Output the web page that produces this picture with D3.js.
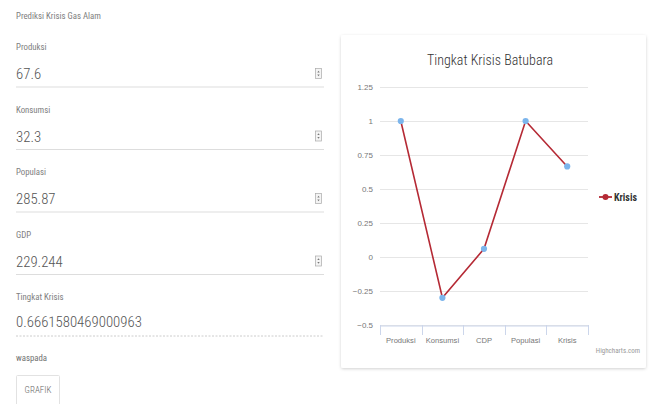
<!DOCTYPE html>
<html>
<head>
<meta charset="utf-8">
<title>Tingkat Krisis Batubara</title>
<script src="https://cdnjs.cloudflare.com/ajax/libs/d3/7.8.5/d3.min.js"></script>
<style>
  body { margin: 0; background: #fff; }
  svg { display: block; font-family: "Roboto Condensed", "Liberation Sans Narrow", "DejaVu Sans Condensed", Roboto, sans-serif; }
</style>
</head>
<body>
<div id="page"></div>
<script>
// form contents
const pageTitle = "Prediksi Krisis Gas Alam";
const fieldLabels = ["Produksi", "Konsumsi", "Populasi", "GDP"];
const fieldValues = ["67.6", "32.3", "285.87", "229.244"];
const resultLabel = "Tingkat Krisis";
const resultValue = "0.6661580469000963";
const statusText = "waspada";
const buttonText = "GRAFIK";

// chart data
const chartTitle = "Tingkat Krisis Batubara";
const categories = ["Produksi", "Konsumsi", "CDP", "Populasi", "Krisis"];
const krisis = [1, -0.3, 0.06, 1, 0.666];
const yTicks = [-0.5, -0.25, 0, 0.25, 0.5, 0.75, 1, 1.25];
const seriesName = "Krisis";

const W = 654, H = 404;
const svg = d3.select("#page").append("svg").attr("width", W).attr("height", H);

// ---- left form ----
const form = svg.append("g");
const labelSize = 8.8, valueSize = 14.8;
form.append("text").attr("x", 16).attr("y", 19).attr("font-size", labelSize).attr("fill", "#808080").text(pageTitle);

fieldLabels.forEach((lab, i) => {
  const top = 50 + i * 62.5;
  form.append("text").attr("x", 16).attr("y", top).attr("font-size", labelSize).attr("fill", "#808080").text(lab);
  form.append("text").attr("x", 16).attr("y", top + 29).attr("font-size", valueSize).attr("font-weight", 300).attr("fill", "#555").text(fieldValues[i]);
  form.append("line").attr("x1", 16).attr("x2", 324).attr("y1", top + 37).attr("y2", top + 37)
    .attr("stroke", "#ddd").attr("stroke-width", 1);
  // spinner
  const sp = form.append("g").attr("transform", `translate(315.5,${top + 18.5})`);
  sp.append("rect").attr("width", 6).attr("height", 10).attr("fill", "#f4f4f4").attr("stroke", "#aaa").attr("stroke-width", 0.7);
  sp.append("path").attr("d", "M1.8,4 L3,2.2 L4.2,4 Z").attr("fill", "#777");
  sp.append("path").attr("d", "M1.8,6 L3,7.8 L4.2,6 Z").attr("fill", "#777");
});

form.append("text").attr("x", 16).attr("y", 300).attr("font-size", labelSize).attr("fill", "#808080").text(resultLabel);
form.append("text").attr("x", 16).attr("y", 327).attr("font-size", valueSize).attr("font-weight", 300).attr("fill", "#555").text(resultValue);
form.append("line").attr("x1", 16).attr("x2", 324).attr("y1", 336).attr("y2", 336)
  .attr("stroke", "#ccc").attr("stroke-dasharray", "2,1.5");
form.append("text").attr("x", 16).attr("y", 361).attr("font-size", labelSize).attr("fill", "#707070").text(statusText);
form.append("rect").attr("x", 16.5).attr("y", 375.5).attr("width", 43).attr("height", 32)
  .attr("fill", "#fff").attr("stroke", "#e2e2e2").attr("rx", 1);
form.append("text").attr("x", 38).attr("y", 393).attr("text-anchor", "middle").attr("font-size", 9).attr("font-weight", 300).attr("fill", "#666").text(buttonText);

// ---- chart card ----
const defs = svg.append("defs");
const f = defs.append("filter").attr("id", "shadow").attr("x", "-5%").attr("y", "-5%").attr("width", "110%").attr("height", "110%");
f.append("feDropShadow").attr("dx", 0).attr("dy", 1).attr("stdDeviation", 1.5).attr("flood-color", "#000").attr("flood-opacity", 0.18);

svg.append("rect").attr("x", 341).attr("y", 35).attr("width", 305).attr("height", 333)
  .attr("fill", "#fff").attr("filter", "url(#shadow)").attr("rx", 2);

svg.append("text").attr("x", 490).attr("y", 65).attr("text-anchor", "middle")
  .attr("font-size", 14).attr("font-weight", 300).attr("fill", "#333").text(chartTitle);

const x = d3.scaleBand().domain(categories).range([380, 588]);
const y = d3.scaleLinear().domain([-0.5, 1.25]).range([325, 87]);

// grid
svg.append("g").selectAll("line").data(yTicks).join("line")
  .attr("x1", 380).attr("x2", 588)
  .attr("y1", d => y(d) + 0.5).attr("y2", d => y(d) + 0.5)
  .attr("stroke", "#e6e6e6");

// y axis labels
const yAxis = d3.axisLeft(y).tickValues(yTicks).tickSize(0).tickPadding(0)
  .tickFormat(d => String(d).replace("-", "\u2212"));
const ya = svg.append("g").attr("transform", "translate(373,0)").call(yAxis);
ya.select(".domain").remove();
ya.selectAll("text").attr("font-size", 8).attr("fill", "#777").attr("font-family", null);

// x axis
const xAxis = d3.axisBottom(x).tickSize(0).tickPadding(12);
const xa = svg.append("g").attr("transform", "translate(0,325.5)").call(xAxis);
xa.select(".domain").attr("stroke", "#ccd6eb");
xa.selectAll("text").attr("font-size", 7.6).attr("fill", "#777").attr("font-family", null);
svg.append("g").selectAll("line").data(categories.concat([null])).join("line")
  .attr("x1", (d, i) => Math.round(380 + i * x.bandwidth()) + 0.5)
  .attr("x2", (d, i) => Math.round(380 + i * x.bandwidth()) + 0.5)
  .attr("y1", 325).attr("y2", 335).attr("stroke", "#ccd6eb");

// series
const line = d3.line().x((d, i) => x(categories[i]) + x.bandwidth() / 2).y(d => y(d));
svg.append("path").datum(krisis).attr("d", line)
  .attr("fill", "none").attr("stroke", "#b52a35").attr("stroke-width", 1.6);
svg.append("g").selectAll("circle").data(krisis).join("circle")
  .attr("cx", (d, i) => x(categories[i]) + x.bandwidth() / 2)
  .attr("cy", d => y(d)).attr("r", 3.1).attr("fill", "#7cb5ec");

// legend
const lg = svg.append("g").attr("transform", "translate(599,197)");
lg.append("line").attr("x1", 0).attr("x2", 13).attr("stroke", "#b52a35").attr("stroke-width", 1.8);
lg.append("circle").attr("cx", 6.5).attr("r", 3).attr("fill", "#b52a35");
lg.append("text").attr("x", 15).attr("y", 3.5).attr("font-size", 10).attr("font-weight", "bold").attr("fill", "#333").text(seriesName);

svg.append("text").attr("x", 640).attr("y", 353).attr("text-anchor", "end")
  .attr("font-size", 7).attr("fill", "#999").text("Highcharts.com");
</script>
</body>
</html>
